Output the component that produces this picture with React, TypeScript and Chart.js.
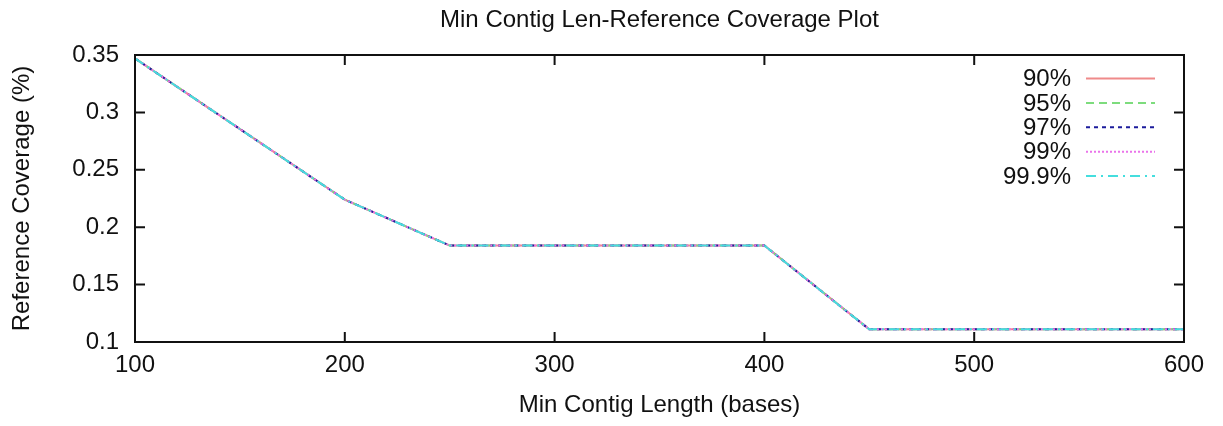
import React, { useEffect, useRef } from "react";
import { Chart, registerables } from "chart.js";

Chart.register(...registerables);

// Minimum contig length (bases) and reference coverage at each threshold
const minContigLengths = [100, 200, 250, 300, 350, 400, 450, 500, 550, 600];
const coverage90 = [0.347, 0.224, 0.184, 0.184, 0.184, 0.184, 0.111, 0.111, 0.111, 0.111];
const coverage95 = [0.347, 0.224, 0.184, 0.184, 0.184, 0.184, 0.111, 0.111, 0.111, 0.111];
const coverage97 = [0.347, 0.224, 0.184, 0.184, 0.184, 0.184, 0.111, 0.111, 0.111, 0.111];
const coverage99 = [0.347, 0.224, 0.184, 0.184, 0.184, 0.184, 0.111, 0.111, 0.111, 0.111];
const coverage999 = [0.347, 0.224, 0.184, 0.184, 0.184, 0.184, 0.111, 0.111, 0.111, 0.111];

const seriesLabels = ["90%", "95%", "97%", "99%", "99.9%"];
const yTickLabels = ["0.1", "0.15", "0.2", "0.25", "0.3", "0.35"];
const xTickLabels = ["100", "200", "300", "400", "500", "600"];

const FONT = "'Liberation Sans', Arial, sans-serif";
const INK = "#111";

const seriesStyles = [
  { color: "#ef8a8a", dash: [] as number[] },
  { color: "#7ddc7d", dash: [8, 5] },
  { color: "#1c1c9c", dash: [4, 4] },
  { color: "#ea74ea", dash: [2, 2] },
  { color: "#45dede", dash: [10, 5, 2, 5] },
];

// Box frame, mirrored inward ticks and the in-plot key
const framePlugin = {
  id: "frame",
  afterDraw(chart: any) {
    const { ctx, chartArea: a, scales } = chart;
    const x = scales.x;
    const y = scales.y;
    const tick = 10;
    ctx.save();
    ctx.strokeStyle = INK;
    ctx.lineWidth = 2;
    ctx.setLineDash([]);
    ctx.beginPath();
    x.ticks.forEach((t: any) => {
      const px = x.getPixelForValue(t.value);
      ctx.moveTo(px, a.bottom);
      ctx.lineTo(px, a.bottom - tick);
      ctx.moveTo(px, a.top);
      ctx.lineTo(px, a.top + tick);
    });
    y.ticks.forEach((t: any) => {
      const py = y.getPixelForValue(t.value);
      ctx.moveTo(a.left, py);
      ctx.lineTo(a.left + tick, py);
      ctx.moveTo(a.right, py);
      ctx.lineTo(a.right - tick, py);
    });
    ctx.stroke();
    ctx.strokeRect(a.left, a.top, a.right - a.left, a.bottom - a.top);

    // key
    const textRight = a.right - 113;
    const lineStart = a.right - 98;
    const lineEnd = a.right - 29;
    const firstY = a.top + 23.5;
    const rowGap = 24.4;
    ctx.font = `24px ${FONT}`;
    ctx.textAlign = "right";
    ctx.textBaseline = "middle";
    chart.data.datasets.forEach((ds: any, i: number) => {
      const ly = firstY + i * rowGap;
      ctx.fillStyle = INK;
      ctx.fillText(ds.label, textRight, ly + 1);
      ctx.strokeStyle = ds.borderColor;
      ctx.lineWidth = 2;
      ctx.setLineDash(ds.borderDash || []);
      ctx.beginPath();
      ctx.moveTo(lineStart, ly);
      ctx.lineTo(lineEnd, ly);
      ctx.stroke();
    });
    ctx.restore();
  },
};

export default function App() {
  const canvasRef = useRef<HTMLCanvasElement | null>(null);

  useEffect(() => {
    if (!canvasRef.current) return;
    const seriesValues = [coverage90, coverage95, coverage97, coverage99, coverage999];
    const chart = new Chart(canvasRef.current, {
      type: "line",
      data: {
        datasets: seriesValues.map((vals, i) => ({
          label: seriesLabels[i],
          data: minContigLengths.map((len, j) => ({ x: len, y: vals[j] })),
          borderColor: seriesStyles[i].color,
          borderDash: seriesStyles[i].dash,
          borderWidth: 2,
          pointRadius: 0,
          tension: 0,
          fill: false,
          order: seriesValues.length - 1 - i,
        })),
      },
      options: {
        animation: false,
        responsive: false,
        layout: { padding: { top: 0, left: 0, right: 39, bottom: 0 } },
        plugins: {
          legend: { display: false },
          tooltip: { enabled: false },
          title: {
            display: true,
            text: "Min Contig Len-Reference Coverage Plot",
            color: INK,
            fullSize: false,
            font: { family: FONT, size: 24, weight: "normal" },
            padding: { top: 5.5, bottom: 20.7 },
          },
        },
        scales: {
          x: {
            type: "linear",
            min: 100,
            max: 600,
            grid: { display: false, drawTicks: false },
            border: { display: false },
            ticks: {
              stepSize: 100,
              color: INK,
              padding: 8.6,
              maxRotation: 0,
              font: { family: FONT, size: 24 },
              callback: (_v: any, i: number) => xTickLabels[i],
            },
            title: {
              display: true,
              text: "Min Contig Length (bases)",
              color: INK,
              font: { family: FONT, size: 24 },
              padding: { top: 0, bottom: 6.6 },
            },
            afterFit: (scale: any) => {
              scale.height = 84;
            },
          },
          y: {
            type: "linear",
            min: 0.1,
            max: 0.35,
            grid: { display: false, drawTicks: false },
            border: { display: false },
            ticks: {
              stepSize: 0.05,
              color: INK,
              padding: 16,
              font: { family: FONT, size: 24 },
              callback: (_v: any, i: number) => yTickLabels[i],
            },
            title: {
              display: true,
              text: "Reference Coverage (%)",
              color: INK,
              font: { family: FONT, size: 24 },
              padding: { top: 7.6, bottom: 0 },
            },
            afterFit: (scale: any) => {
              scale.width = 135;
            },
          },
        },
      },
      plugins: [framePlugin],
    });
    return () => chart.destroy();
  }, []);

  return (
    <div style={{ position: "absolute", left: 0, top: 0, width: 1223, height: 426, background: "#fff" }}>
      <canvas ref={canvasRef} width={1223} height={426} />
    </div>
  );
}
